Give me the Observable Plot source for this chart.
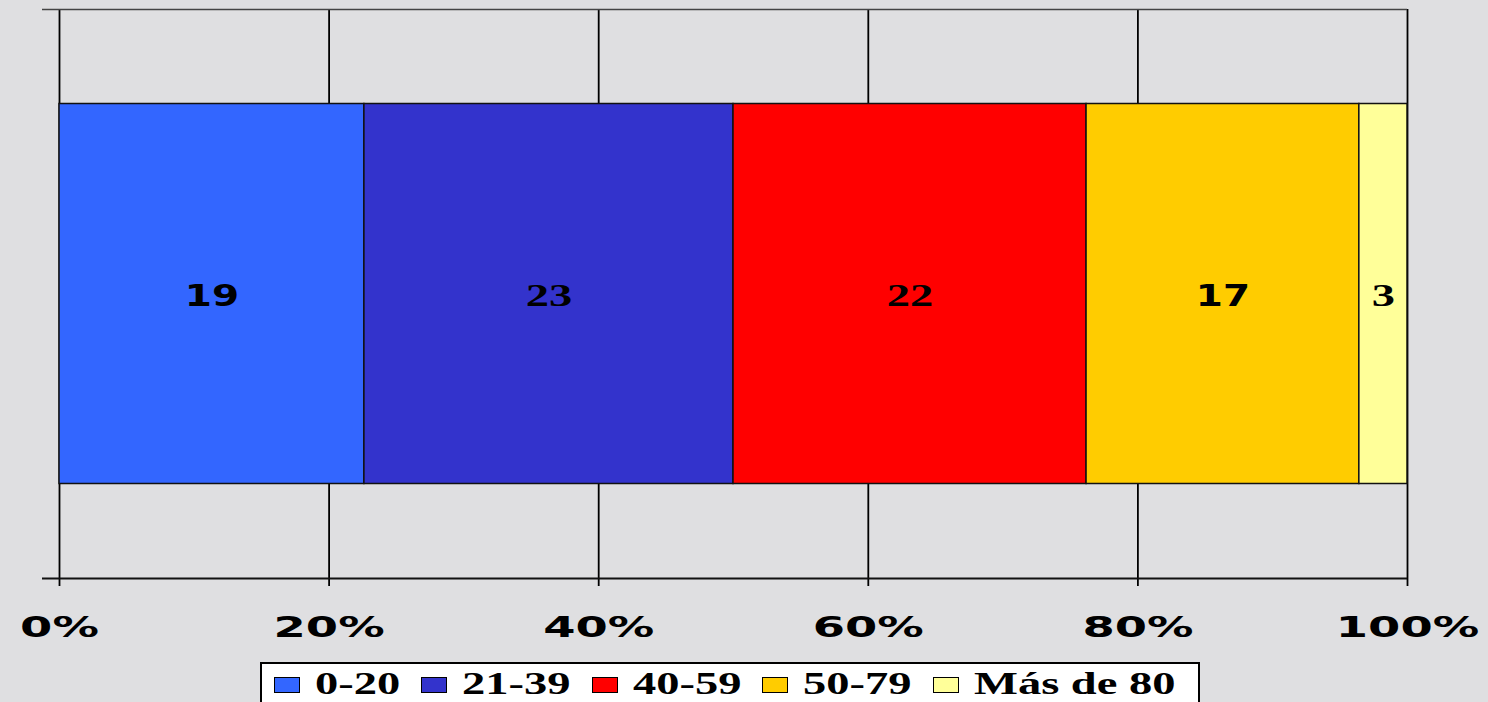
<!DOCTYPE html>
<html><head><meta charset="utf-8">
<script src="https://cdn.jsdelivr.net/npm/d3@7"></script>
<script src="https://cdn.jsdelivr.net/npm/@observablehq/plot@0.6"></script>
<style>
html,body{margin:0;padding:0;background:#dfdfe1;}
#wrap{position:relative;width:1488px;height:702px;overflow:hidden;background:#dfdfe1;}
#chart svg{display:block;}
#legend{position:absolute;left:260px;top:662px;width:924px;height:42px;border:2px solid #000;background:#fff;box-sizing:content-box;
  display:flex;align-items:flex-start;padding-left:12px;font-family:"Liberation Serif","Times New Roman","DejaVu Serif",serif;font-weight:bold;font-size:31px;line-height:36px;color:#000;white-space:nowrap;}
#legend .item{display:flex;align-items:center;height:36px;margin-top:2px;}
#legend .sw{width:24px;height:14px;border:1.5px solid #000;margin-right:15px;margin-top:2px;}
#legend .lab{display:inline-block;transform:scaleX(1.5);transform-origin:left center;}
</style>
</head><body>
<div id="wrap"><div id="chart"></div><div id="legend"></div></div>
<script>
const categories = ["0-20", "21-39", "40-59", "50-79", "Más de 80"];
const values = [19, 23, 22, 17, 3];
const colors = ["#3366ff", "#3333cc", "#ff0000", "#ffcc00", "#ffff99"];
const tickValues = [0, 0.2, 0.4, 0.6, 0.8, 1];
const serifLabels = ["23", "22", "3"];

const data = categories.map((c, i) => ({category: c, value: values[i]}));
const SERIF = "'Liberation Serif', 'Times New Roman', 'DejaVu Serif', serif";

const W = 1488, H = 655;
const plot = Plot.plot({
  width: W,
  height: H,
  marginLeft: 42,
  marginRight: 81,
  marginTop: 9,
  marginBottom: 77,
  style: {background: "transparent", color: "#000", fontFamily: "DejaVu Sans", fontWeight: "bold", fontSize: "29px", overflow: "visible"},
  x: {domain: [0, 1], range: [59, 1407], ticks: tickValues, tickFormat: d3.format(".0%"), tickSize: 8, tickPadding: 30, label: null},
  y: {domain: [0, 1], axis: null},
  color: {domain: categories, range: colors},
  marks: [
    Plot.ruleX(tickValues, {stroke: "#000", strokeWidth: 1.8}),
    Plot.barX(data, Plot.stackX({x: "value", fill: "category", offset: "normalize", order: null,
      insetTop: 94.5, insetBottom: 94.5, stroke: "#111", strokeWidth: 1.5})),
    Plot.text(data, Plot.stackX({x: "value", text: d => String(d.value), offset: "normalize", order: null,
      fontSize: 30, fontWeight: "bold", fill: "#000", dy: 2})),
    Plot.ruleY([1], {stroke: "#444", strokeWidth: 1.5}),
    Plot.ruleY([0], {stroke: "#111", strokeWidth: 1.8})
  ]
});
document.getElementById("chart").appendChild(plot);

function stretch(el, s) {
  const x = +(el.getAttribute("x") || 0);
  const t = el.getAttribute("transform") || "";
  el.setAttribute("transform", `${t} translate(${x},0) scale(${s},1) translate(${-x},0)`);
}
plot.querySelectorAll('g[aria-label="x-axis tick label"] text').forEach(t => stretch(t, 1.6));
plot.querySelectorAll('g[aria-label="x-axis tick"] path, g[aria-label="x-axis tick"] line').forEach(p => {p.setAttribute("stroke", "#000"); p.setAttribute("stroke-width", "1.8");});
plot.querySelectorAll('g[aria-label="text"] text').forEach(t => {
  if (serifLabels.includes(t.textContent)) {
    t.style.fontFamily = SERIF;
    t.style.fontSize = "31px";
    stretch(t, 1.5);
  } else {
    t.style.fontFamily = "'DejaVu Sans'";
    stretch(t, 1.3);
  }
});

const leg = document.getElementById("legend");
categories.forEach((c, i) => {
  const item = document.createElement("div");
  item.className = "item";
  const sw = document.createElement("div");
  sw.className = "sw";
  sw.style.background = colors[i];
  const lab = document.createElement("span");
  lab.className = "lab";
  lab.textContent = c;
  item.appendChild(sw);
  item.appendChild(lab);
  leg.appendChild(item);
  const w = lab.getBoundingClientRect().width / 1.5;
  lab.style.marginRight = (w * 0.5 + 21) + "px";
});
</script>
</body></html>
